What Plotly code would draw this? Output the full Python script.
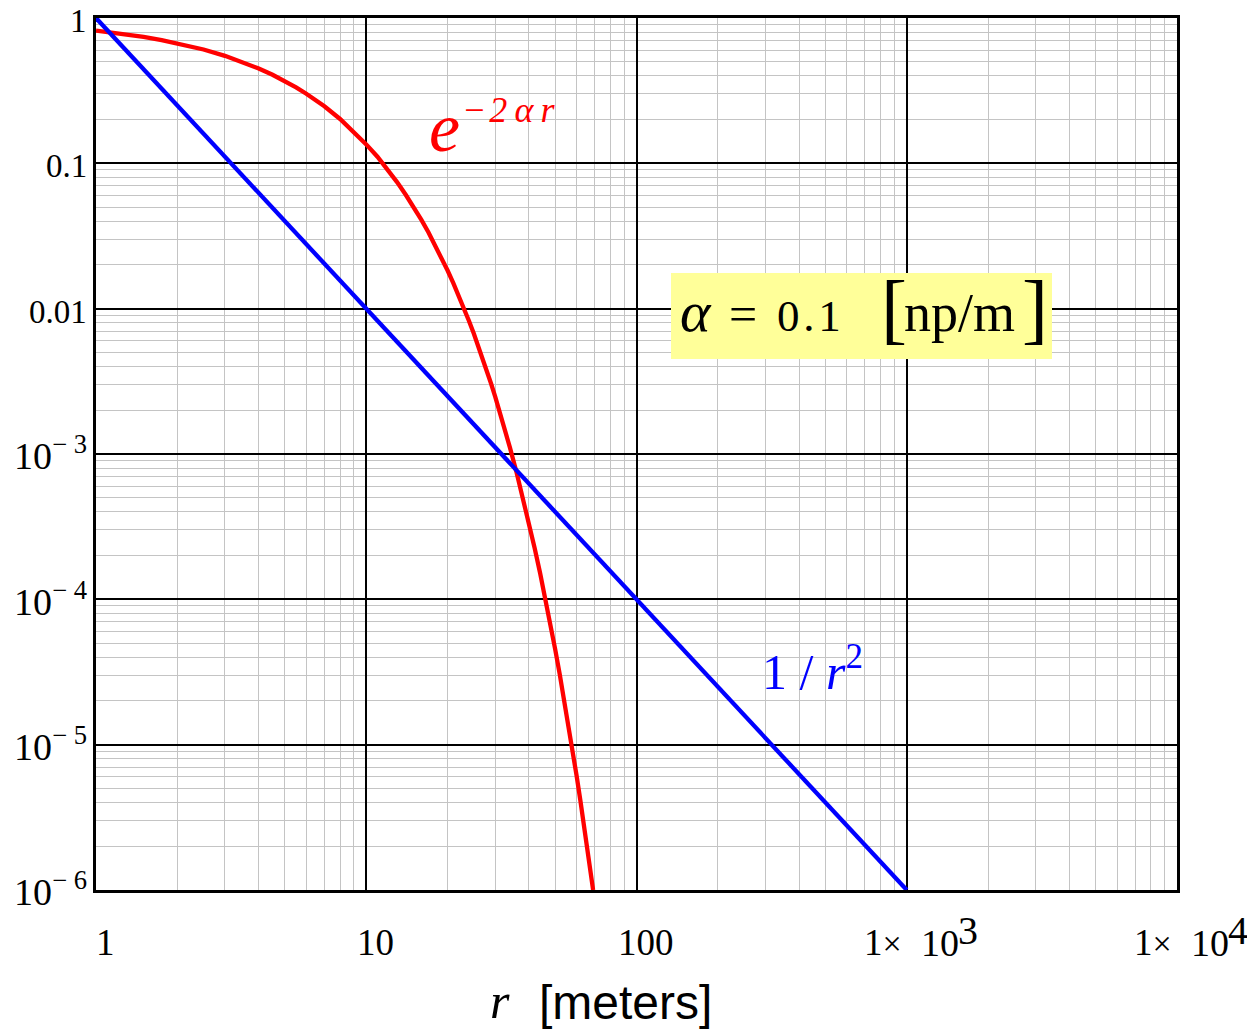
import math
import plotly.graph_objects as go

# ---------------- data ----------------
r_exp = [1, 1.25, 1.5, 1.75, 2, 2.5, 3, 3.5, 4, 4.5, 5, 5.5, 6, 7, 8, 9, 10, 11, 12, 13,
         14, 15, 16, 17, 18, 19, 20, 21, 22, 23, 24, 25, 26, 27, 28, 29, 30,
         32, 34, 36, 38, 40, 42, 44, 46, 48, 50, 52, 54, 56, 58, 60, 62, 64, 66, 68, 69.1]
y_exp = [0.819, 0.779, 0.741, 0.705, 0.670, 0.607, 0.549, 0.497, 0.449, 0.407, 0.368, 0.333,
         0.301, 0.247, 0.202, 0.165, 0.135, 0.111, 0.0907, 0.0743,
         0.0608, 0.0498, 0.0408, 0.0334, 0.0273, 0.0224, 0.0183, 0.0150, 0.0123, 0.0101,
         0.00823, 0.00674, 0.00552, 0.00452, 0.00370, 0.00303, 0.00248,
         0.00166, 0.00111, 7.47e-4, 5.00e-4, 3.35e-4, 2.25e-4, 1.51e-4, 1.01e-4, 6.77e-5, 4.54e-5,
         3.04e-5, 2.04e-5, 1.37e-5, 9.17e-6, 6.14e-6, 4.12e-6, 2.76e-6, 1.85e-6, 1.24e-6, 1.0e-6]

r_inv = [1, 10, 100, 1000]
y_inv = [1, 0.01, 1e-4, 1e-6]

x_tick_vals = [1, 10, 100, 1000, 10000]
x_tick_labels = ["1", "10", "100", "1×|10|3", "1×|10|4"]
y_tick_vals = [1, 0.1, 0.01, 1e-3, 1e-4, 1e-5, 1e-6]
y_tick_labels = ["1", "0.1", "0.01", "10<sup>− 3</sup>", "10<sup>− 4</sup>",
                 "10<sup>− 5</sup>", "10<sup>− 6</sup>"]

# ---------------- layout helpers ----------------
W, H = 1247, 1033
L, R, T, B = 96, 70, 18, 143
PW, PH = W - L - R, H - T - B
SERIF = "Liberation Serif"
SANS = "Liberation Sans"
DESC = 0.216


def px(x):
    return (x - L) / PW


def py(y):
    return 1 - (y - T) / PH


def text_at(txt, x_left, baseline, size, color="black", family=SERIF, anchor="left"):
    return dict(text=txt, xref="paper", yref="paper", x=px(x_left), y=py(baseline),
                xanchor=anchor, yanchor="bottom", yshift=-(DESC * size),
                showarrow=False, borderpad=0,
                font=dict(size=size, color=color, family=family))


def minor_vals(lo, hi):
    return [m * 10.0 ** k for k in range(lo, hi) for m in range(2, 10)]


fig = go.Figure()
fig.add_trace(go.Scatter(x=r_exp, y=y_exp, mode="lines",
                         line=dict(color="#ff0000", width=4.3), showlegend=False))
fig.add_trace(go.Scatter(x=r_inv, y=y_inv, mode="lines",
                         line=dict(color="#0000ff", width=4.3), showlegend=False))

ann = []
# x tick labels
for v, lab in zip(x_tick_vals, x_tick_labels):
    xv = math.log10(v)
    if "|" in lab:
        a, b, c = lab.split("|")
        a = a.replace("×", "<span style='font-size:34px'>×</span>")
        for t, off, fs, base in [(a, -44, 37, 956), (b, 13, 38, 957), (c, 50, 40, 945)]:
            ann.append(dict(text=t, xref="x", yref="paper", x=xv, y=py(base),
                            xanchor="left", xshift=off, yanchor="bottom",
                            yshift=-(DESC * fs), showarrow=False, borderpad=0,
                            font=dict(size=fs, family=SERIF, color="black")))
    else:
        ann.append(dict(text=lab, xref="x", yref="paper", x=xv, y=py(956),
                        xanchor="center", xshift=9, yanchor="bottom",
                        yshift=-(DESC * 37), showarrow=False, borderpad=0,
                        font=dict(size=37, family=SERIF, color="black")))
# y tick labels
for v, lab in zip(y_tick_vals, y_tick_labels):
    fs = 38 if "sup" in lab else 33
    off = 16 if "sup" in lab else 15
    ann.append(dict(text=lab, xref="paper", yref="y", x=0, y=math.log10(v),
                    xanchor="right", xshift=-8, yanchor="bottom",
                    yshift=-(off + DESC * fs), showarrow=False, borderpad=0,
                    font=dict(size=fs, family=SERIF, color="black")))

# curve labels
ann.append(text_at("<i>e</i>", 428, 152, 70, color="#ff0000"))
ann.append(text_at("<i>−\u200a2\u2009α\u2009r</i>", 461, 123, 36, color="#ff0000"))
ann.append(text_at("1 / <i>r</i><sup>2</sup>", 761, 690, 50, color="#0000ff"))

# alpha box
ann.append(text_at("<i>α</i>", 679, 332, 58))
ann.append(text_at("=", 728, 332, 50))
ann.append(text_at("0\u200a.\u200a1", 776, 332, 45))
ann.append(text_at("[", 880, 336, 78))
ann.append(text_at("np/m", 903, 332, 54))
ann.append(text_at("]", 1021, 336, 78))

# axis title
ann.append(text_at("<i>r</i>", 489, 1019, 50))
ann.append(text_at("[meters]", 538, 1020, 48, family=SANS))

shapes = [dict(type="rect", xref="paper", yref="paper", x0=px(671), x1=px(1052),
               y0=py(359), y1=py(273), fillcolor="#ffff99", line=dict(width=0),
               layer="above")]

axis_common = dict(type="log", dtick=1, showgrid=True, gridcolor="black", gridwidth=2,
                   showticklabels=False, ticks="", showline=True, linecolor="black",
                   linewidth=3, mirror=True, zeroline=False)

fig.update_layout(
    width=W, height=H,
    margin=dict(l=L, r=R, t=T, b=B, pad=0),
    paper_bgcolor="white", plot_bgcolor="white",
    xaxis=dict(range=[0, 4], **axis_common,
               minor=dict(tickmode="array", tickvals=minor_vals(0, 4), showgrid=True,
                          gridcolor="#c4c4c4", gridwidth=1, ticks="")),
    yaxis=dict(range=[-6, 0], **axis_common,
               minor=dict(tickmode="array", tickvals=minor_vals(-6, 0), showgrid=True,
                          gridcolor="#c4c4c4", gridwidth=1, ticks="")),
    annotations=ann, shapes=shapes, showlegend=False,
)

fig.write_html("out.html", config={"displayModeBar": False},
               post_script="document.body.style.margin='0';document.body.style.overflow='hidden';")
